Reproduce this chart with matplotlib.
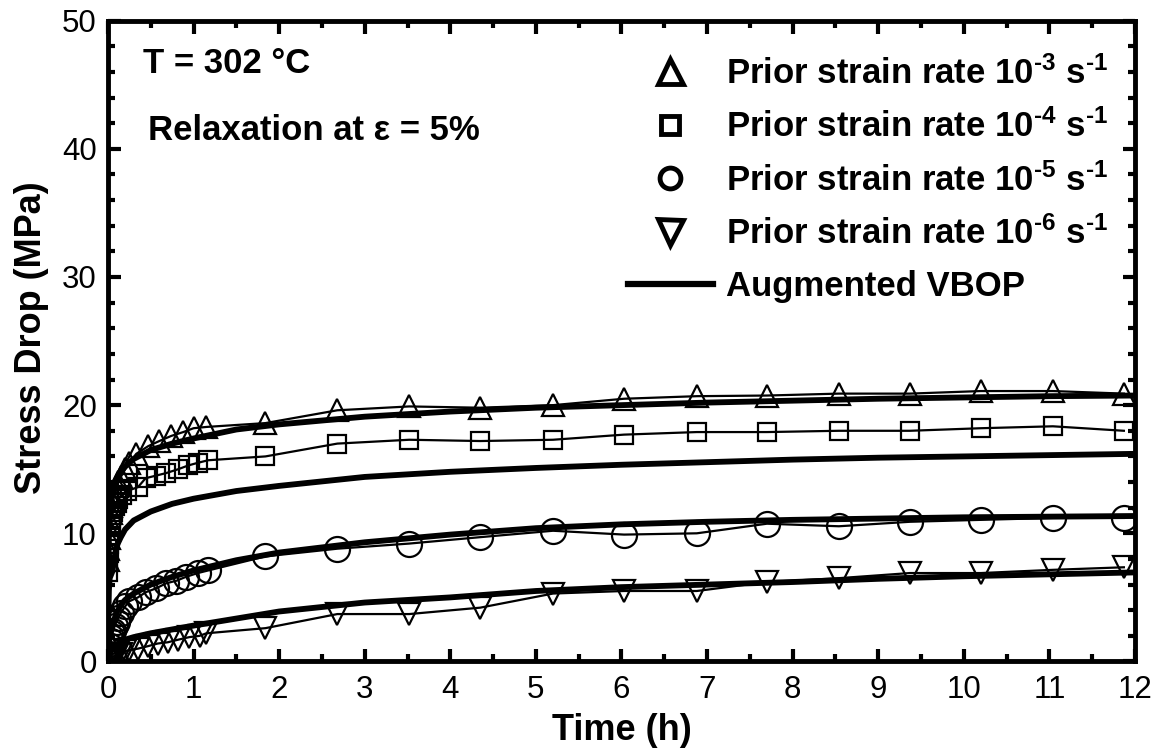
import matplotlib
matplotlib.use("Agg")
import matplotlib.pyplot as plt
from matplotlib.lines import Line2D
from matplotlib.ticker import MultipleLocator

plt.rcParams['font.family'] = ['Liberation Sans', 'DejaVu Sans']
plt.rcParams['mathtext.fontset'] = 'custom'
plt.rcParams['mathtext.rm'] = 'Liberation Sans:bold'
plt.rcParams['mathtext.it'] = 'Liberation Sans:bold'
plt.rcParams['mathtext.bf'] = 'Liberation Sans:bold'
plt.rcParams['mathtext.default'] = 'rm'

# ---------------- data ----------------
t_e3 = [0.0, 0.005, 0.01, 0.015, 0.02, 0.03, 0.04, 0.05, 0.06, 0.08, 0.1, 0.12, 0.15, 0.2, 0.25,
        0.33, 0.47, 0.6, 0.74, 0.88, 1.0, 1.15,
        1.84, 2.68, 3.52, 4.35, 5.2, 6.03, 6.88, 7.7, 8.54, 9.37, 10.2, 11.04, 11.87]
s_e3 = [7.9, 8.8, 9.6, 10.3, 10.9, 11.6, 12.1, 12.5, 12.8, 13.3, 13.7, 14.0, 14.4, 15.0, 15.5,
        16.2, 16.8, 17.2, 17.6, 17.9, 18.2, 18.3,
        18.6, 19.6, 19.9, 19.8, 20.0, 20.5, 20.7, 20.75, 20.9, 20.9, 21.1, 21.1, 20.9]

t_e4 = [0.0, 0.005, 0.01, 0.015, 0.02, 0.03, 0.04, 0.05, 0.06, 0.08, 0.1, 0.12, 0.16, 0.22,
        0.35, 0.44, 0.56, 0.68, 0.82, 0.94, 1.05, 1.17,
        1.84, 2.68, 3.52, 4.35, 5.2, 6.03, 6.88, 7.7, 8.54, 9.37, 10.2, 11.04, 11.87]
s_e4 = [7.0, 7.8, 8.5, 9.2, 9.8, 10.5, 11.0, 11.4, 11.7, 12.1, 12.4, 12.7, 13.0, 13.3,
        13.6, 14.3, 14.5, 14.7, 15.0, 15.3, 15.5, 15.7,
        16.0, 17.0, 17.3, 17.2, 17.3, 17.7, 17.9, 17.9, 18.0, 18.0, 18.2, 18.35, 18.0]

t_e5 = [0.0, 0.005, 0.01, 0.015, 0.02, 0.03, 0.04, 0.05, 0.06, 0.08, 0.1, 0.12, 0.15, 0.2, 0.25,
        0.35, 0.44, 0.56, 0.68, 0.8, 0.91, 1.05, 1.17,
        1.84, 2.68, 3.52, 4.35, 5.2, 6.03, 6.88, 7.7, 8.54, 9.37, 10.2, 11.04, 11.87]
s_e5 = [0.0, 0.3, 0.6, 0.9, 1.2, 1.6, 1.9, 2.2, 2.4, 2.8, 3.1, 3.4, 3.8, 4.3, 4.7,
        5.0, 5.4, 5.7, 6.1, 6.3, 6.6, 6.9, 7.1,
        8.2, 8.8, 9.2, 9.7, 10.2, 9.9, 10.0, 10.75, 10.55, 10.9, 11.05, 11.2, 11.2]

t_e6 = [0.0, 0.005, 0.01, 0.02, 0.03, 0.04, 0.06, 0.08, 0.1, 0.15, 0.2, 0.25,
        0.35, 0.47, 0.58, 0.7, 0.82, 0.95, 1.07, 1.15,
        1.84, 2.68, 3.52, 4.35, 5.2, 6.03, 6.88, 7.7, 8.54, 9.37, 10.2, 11.04, 11.87]
s_e6 = [0.0, 0.05, 0.1, 0.2, 0.25, 0.3, 0.4, 0.45, 0.5, 0.6, 0.8, 0.9,
        1.0, 1.2, 1.4, 1.5, 1.7, 1.9, 2.0, 2.2,
        2.6, 3.7, 3.7, 4.2, 5.3, 5.5, 5.5, 6.2, 6.5, 6.9, 6.9, 7.15, 7.35]

# Augmented VBOP model curves
t_model = [0.0, 0.005, 0.01, 0.02, 0.05, 0.1, 0.15, 0.2, 0.3, 0.5, 0.75, 1.0, 1.5, 2.0, 3.0, 4.0,
           5.0, 6.0, 7.0, 8.0, 9.0, 10.0, 11.0, 12.0]
m_e3 = [0.0, 7.0, 9.5, 11.5, 13.0, 14.2, 14.8, 15.2, 15.8, 16.5, 17.0, 17.4, 18.1, 18.5, 19.1, 19.5,
        19.8, 20.0, 20.2, 20.35, 20.5, 20.6, 20.7, 20.75]
m_e4 = [0.0, 4.0, 5.5, 6.5, 7.0, 9.0, 9.7, 10.3, 11.0, 11.7, 12.3, 12.7, 13.3, 13.7, 14.4, 14.8,
        15.1, 15.35, 15.55, 15.75, 15.9, 16.0, 16.1, 16.2]
m_e5 = [0.0, 0.8, 1.3, 1.9, 2.8, 3.8, 4.4, 4.8, 5.3, 6.0, 6.6, 7.1, 7.9, 8.5, 9.3, 9.9,
        10.4, 10.7, 10.9, 11.05, 11.15, 11.25, 11.3, 11.35]
m_e6 = [0.0, 0.2, 0.35, 0.6, 1.0, 1.3, 1.55, 1.7, 1.9, 2.2, 2.5, 2.8, 3.35, 3.9, 4.6, 5.0,
        5.5, 5.8, 6.0, 6.2, 6.45, 6.65, 6.8, 6.95]

labels = [r"Prior strain rate 10$^{\text{-3}}$ s$^{\text{-1}}$",
          r"Prior strain rate 10$^{\text{-4}}$ s$^{\text{-1}}$",
          r"Prior strain rate 10$^{\text{-5}}$ s$^{\text{-1}}$",
          r"Prior strain rate 10$^{\text{-6}}$ s$^{\text{-1}}$",
          "Augmented VBOP"]

# ---------------- figure ----------------
fig = plt.figure(figsize=(11.61, 7.51), dpi=100)
ax = fig.add_axes([0.0930, 0.1192, 0.8846, 0.8533])

for m in [m_e3, m_e4, m_e5, m_e6]:
    ax.plot(t_model, m, color='black', lw=4.2, zorder=3, solid_capstyle='round')

series = [(t_e3, s_e3, '^', 16), (t_e4, s_e4, 's', 13), (t_e5, s_e5, 'o', 18), (t_e6, s_e6, 'v', 16)]
for t, s, mk, ms in series:
    ax.plot(t, s, color='black', lw=1.6, marker=mk, ms=ms, mfc='none', mec='black', mew=1.6, zorder=4)

ax.set_xlim(0, 12)
ax.set_ylim(0, 50)
ax.xaxis.set_major_locator(MultipleLocator(1))
ax.xaxis.set_minor_locator(MultipleLocator(0.5))
ax.yaxis.set_major_locator(MultipleLocator(10))
ax.yaxis.set_minor_locator(MultipleLocator(2))
ax.tick_params(which='both', direction='in', top=True, right=True, labelsize=22.5)
ax.tick_params(which='major', length=9, width=3)
ax.tick_params(which='minor', length=5, width=3)
ax.tick_params(axis='x', pad=10)
ax.tick_params(axis='y', pad=8)
for sp in ax.spines.values():
    sp.set_linewidth(3.5)

ax.set_xlabel("Time (h)", fontsize=26, fontweight='bold')
ax.set_ylabel("Stress Drop (MPa)", fontsize=26, fontweight='bold')
ax.xaxis.set_label_coords(0.5, -0.108)
ax.xaxis.label.set_va('center')
ax.yaxis.set_label_coords(-0.074, 0.506)
ax.yaxis.label.set_va('center')

ax.text(0.034, 0.918, "T = 302 °C", transform=ax.transAxes, fontsize=25, fontweight='bold',
        ha='left', va='baseline')
ax.text(0.039, 0.814, "Relaxation at ε = 5%", transform=ax.transAxes, fontsize=25, fontweight='bold',
        ha='left', va='baseline')

handles = [Line2D([], [], ls='none', marker='^', ms=18, mfc='none', mec='black', mew=3.5),
           Line2D([], [], ls='none', marker='s', ms=13, mfc='none', mec='black', mew=3.5),
           Line2D([], [], ls='none', marker='o', ms=15, mfc='none', mec='black', mew=3.5),
           Line2D([], [], ls='none', marker='v', ms=18, mfc='none', mec='black', mew=3.5),
           Line2D([], [], color='black', lw=4.5)]
leg = ax.legend(handles, labels, loc='upper right', bbox_to_anchor=(0.974, 0.945), frameon=False,
                prop={'weight': 'bold', 'size': 25}, handlelength=2.45, handletextpad=0.38,
                labelspacing=0.55, borderpad=0.0, borderaxespad=0.0)

fig.savefig("out.png", dpi=100)
